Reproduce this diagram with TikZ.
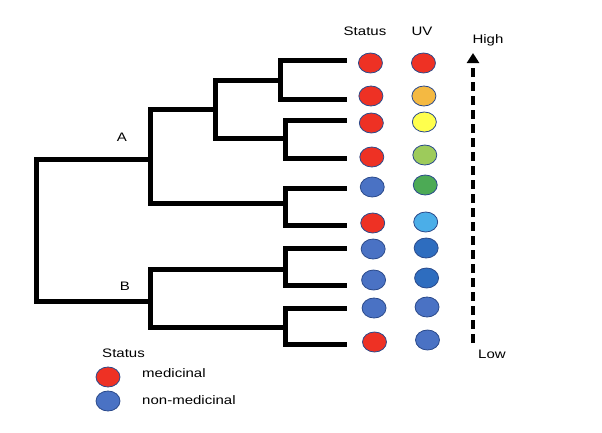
\documentclass[tikz,border=0pt]{standalone}
\usepackage{fontspec}
\setmainfont{Liberation Sans}
\usetikzlibrary{arrows.meta,shapes.geometric}
\definecolor{cred}{HTML}{EE3124}
\definecolor{cblue}{HTML}{4A72C4}
\definecolor{corange}{HTML}{F4B942}
\definecolor{cyellow}{HTML}{FFFF4D}
\definecolor{clgreen}{HTML}{9DCB5B}
\definecolor{cgreen}{HTML}{4CAA55}
\definecolor{clblue}{HTML}{4BAEE8}
\definecolor{cdblue}{HTML}{2E6DBF}
\definecolor{cedge}{HTML}{2B4A8B}
\begin{document}
\begin{tikzpicture}[x=1pt,y=-1pt,
  br/.style={line width=5pt,line join=miter,line cap=rect},
  dot/.style={ellipse,minimum width=24pt,minimum height=20pt,inner sep=0pt,draw=cedge,line width=0.8pt,fill=#1},
  lbl/.style={font=\fontsize{12.3}{14}\selectfont,xscale=1.22,inner sep=0pt}]
\useasboundingbox (0,0) rectangle (602,432);
\fill[white] (0,0) rectangle (602,432);
% tree
\draw[br] (150,159) -- (36,159) -- (36,301) -- (150,301);
\draw[br] (215,109) -- (150,109) -- (150,203) -- (285,203);
\draw[br] (280,80) -- (215,80) -- (215,138) -- (285,138);
\draw[br] (344,60) -- (280,60) -- (280,99) -- (344,99);
\draw[br] (344,120) -- (285,120) -- (285,158) -- (344,158);
\draw[br] (344,188) -- (285,188) -- (285,225) -- (344,225);
\draw[br] (285,269) -- (150,269) -- (150,327) -- (285,327);
\draw[br] (344,248) -- (285,248) -- (285,285) -- (344,285);
\draw[br] (344,308) -- (285,308) -- (285,344) -- (344,344);
\node[lbl] (A) at (122,137) {A};
\node[lbl] (B) at (125,286) {B};
% headers
\node[lbl] (hs) at (365,31) {Status};
\node[lbl] (hu) at (422,31) {UV};
% status dots
\foreach \y/\c [count=\i] in {63/cred,96/cred,123/cred,157/cred,187/cblue,223/cred,249/cblue,280/cblue,308/cblue,342/cred}
  \node[dot=\c] (s\i) at (370+\i*0.45,\y) {};
% UV dots
\foreach \y/\c [count=\i] in {63/cred,96/corange,122/cyellow,155/clgreen,185/cgreen,222/clblue,248/cdblue,278/cdblue,307/cblue,340/cblue}
  \node[dot=\c] (u\i) at (423+\i*0.45,\y) {};
% arrow
\coordinate (lo) at (473,343);
\coordinate (hi) at (473,53);
\draw[line width=4.5pt,dash pattern=on 9pt off 5pt,-{Triangle[width=12pt,length=10pt]}] (lo) -- (hi);
\node[lbl] (high) at (488,40) {High};
\node[lbl] (low) at (492,354) {Low};
% legend
\node[lbl,anchor=west] (ls) at (102,353) {Status};
\node[dot=cred] (l1) at (108,377) {};
\node[dot=cblue] (l2) at (108,401) {};
\node[lbl,anchor=west] (t1) at (142,373) {medicinal};
\node[lbl,anchor=west] (t2) at (142,400) {non-medicinal};
\end{tikzpicture}
\end{document}
